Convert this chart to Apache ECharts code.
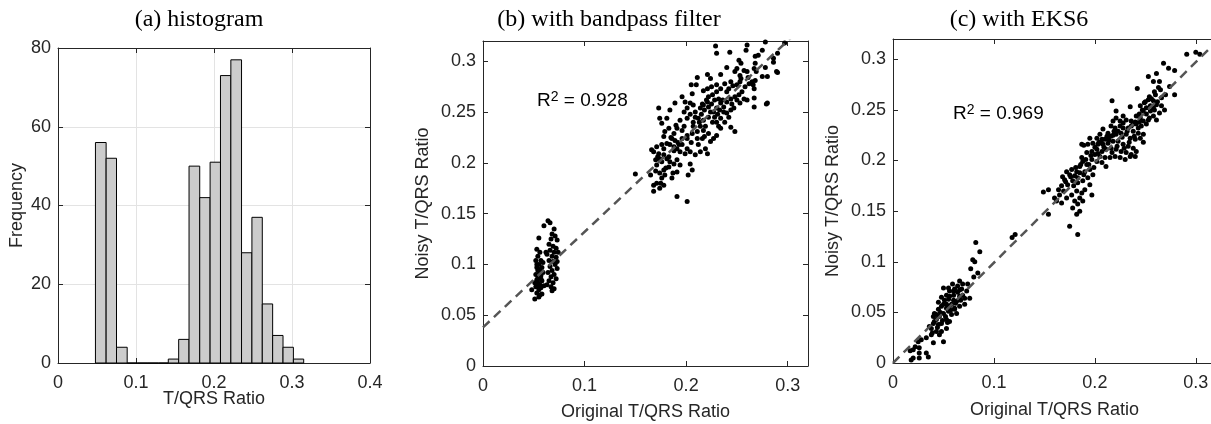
<!DOCTYPE html>
<html>
<head>
<meta charset="utf-8">
<script src="https://cdn.jsdelivr.net/npm/echarts@6/dist/echarts.min.js"></script>
<style>
html,body{margin:0;padding:0;background:#fff;}
#chart{width:1211px;height:424px;}
</style>
</head>
<body>
<div id="chart"></div>
<script>
// (a) histogram: bin edges and counts
var histEdges = [0.0480, 0.0617, 0.0750, 0.0887, 0.1020, 0.1153, 0.1286, 0.1414, 0.1547, 0.1680, 0.1817,
  0.1950, 0.2083, 0.2216, 0.2353, 0.2486, 0.2619, 0.2752, 0.2885, 0.3018, 0.3150];
var histCounts = [56, 52, 4, 0, 0, 0, 0, 1, 6, 50, 42, 51, 73, 77, 28, 37, 15, 7, 4, 1];

// (b) with bandpass filter: [original, noisy]
var bandpassLow = [
  [0.055,0.126],[0.053,0.115],[0.056,0.112],[0.054,0.108],[0.052,0.104],[0.057,0.104],[0.055,0.100],[0.053,0.097],
  [0.058,0.097],[0.054,0.094],[0.056,0.092],[0.052,0.090],[0.057,0.089],[0.055,0.087],[0.053,0.085],[0.058,0.084],
  [0.054,0.082],[0.056,0.080],[0.052,0.078],[0.057,0.077],[0.055,0.075],[0.053,0.072],[0.056,0.070],[0.051,0.066],
  [0.055,0.068],[0.058,0.071],[0.054,0.088],[0.056,0.095],[0.059,0.092],[0.051,0.082],[0.060,0.079],[0.048,0.075],
  [0.057,0.086],[0.053,0.100],[0.055,0.079],[0.059,0.102],
  [0.064,0.143],[0.066,0.141],[0.070,0.135],[0.068,0.130],[0.071,0.128],[0.067,0.125],[0.073,0.124],[0.065,0.120],
  [0.069,0.118],[0.072,0.116],[0.066,0.114],[0.070,0.112],[0.063,0.110],[0.068,0.108],[0.072,0.107],[0.065,0.104],
  [0.069,0.103],[0.071,0.100],[0.066,0.098],[0.073,0.096],[0.068,0.094],[0.064,0.092],[0.070,0.090],[0.067,0.088],
  [0.072,0.086],[0.065,0.084],[0.069,0.082],[0.063,0.080],[0.067,0.078],[0.070,0.076],[0.068,0.074],[0.060,0.138],
  [0.062,0.112],[0.074,0.112],[0.073,0.103]
];
var bandpassHigh = [
  [0.229,0.315],[0.230,0.308],[0.243,0.309],[0.260,0.316],[0.259,0.311],[0.278,0.319],[0.275,0.311],[0.271,0.306],
  [0.268,0.305],[0.290,0.308],[0.297,0.318],[0.252,0.301],[0.254,0.298],[0.268,0.298],[0.267,0.293],[0.250,0.293],
  [0.240,0.294],[0.248,0.290],[0.257,0.291],[0.260,0.290],[0.253,0.286],[0.261,0.284],[0.269,0.290],[0.278,0.294],
  [0.280,0.285],[0.275,0.285],[0.289,0.290],[0.265,0.280],[0.266,0.277],[0.267,0.273],[0.253,0.280],[0.250,0.277],
  [0.244,0.280],[0.242,0.273],[0.234,0.287],[0.224,0.283],[0.221,0.287],[0.211,0.284],[0.210,0.277],[0.205,0.277],
  [0.206,0.268],[0.217,0.271],[0.221,0.273],[0.225,0.275],[0.230,0.277],[0.234,0.273],[0.230,0.270],[0.226,0.267],
  [0.222,0.265],[0.232,0.263],[0.221,0.260],[0.217,0.257],[0.214,0.254],[0.209,0.250],[0.204,0.248],[0.201,0.244],
  [0.207,0.240],[0.212,0.244],[0.217,0.242],[0.222,0.245],[0.227,0.250],[0.230,0.254],[0.234,0.259],[0.237,0.255],
  [0.240,0.260],[0.244,0.263],[0.248,0.265],[0.252,0.267],[0.257,0.263],[0.260,0.262],[0.253,0.259],[0.247,0.254],
  [0.244,0.252],[0.240,0.249],[0.237,0.250],[0.234,0.244],[0.230,0.240],[0.234,0.234],[0.230,0.227],[0.227,0.224],
  [0.222,0.229],[0.217,0.232],[0.214,0.236],[0.211,0.231],[0.206,0.229],[0.201,0.227],[0.196,0.232],[0.191,0.234],
  [0.188,0.229],[0.183,0.234],[0.179,0.231],[0.178,0.226],[0.174,0.244],[0.173,0.254],[0.176,0.239],[0.181,0.244],
  [0.184,0.252],[0.189,0.259],[0.196,0.265],[0.199,0.260],[0.201,0.254],[0.204,0.259],[0.207,0.257],[0.198,0.250],
  [0.194,0.242],[0.190,0.237],[0.186,0.224],[0.189,0.222],[0.193,0.218],[0.196,0.218],[0.201,0.214],[0.204,0.211],
  [0.209,0.208],[0.214,0.211],[0.219,0.214],[0.221,0.209],[0.216,0.224],[0.211,0.224],[0.224,0.221],[0.201,0.224],
  [0.199,0.209],[0.194,0.211],[0.191,0.214],[0.188,0.216],[0.184,0.218],[0.181,0.219],[0.176,0.218],[0.171,0.216],
  [0.168,0.211],[0.173,0.209],[0.178,0.208],[0.181,0.204],[0.184,0.201],[0.188,0.199],[0.183,0.196],[0.178,0.193],
  [0.174,0.190],[0.179,0.188],[0.176,0.201],[0.171,0.198],[0.174,0.204],[0.170,0.203],[0.166,0.213],[0.191,0.203],
  [0.194,0.198],[0.191,0.191],[0.186,0.185],[0.204,0.199],[0.206,0.193],[0.202,0.188],[0.168,0.178],[0.171,0.180],
  [0.174,0.175],[0.168,0.172],[0.178,0.178],[0.150,0.189],[0.165,0.188],[0.191,0.167],[0.201,0.162],[0.248,0.231],
  [0.244,0.235],[0.267,0.264],[0.267,0.255],[0.280,0.259],[0.268,0.281],[0.286,0.299],[0.286,0.303],[0.279,0.258],
  [0.290,0.289],
  [0.215,0.248],[0.218,0.252],[0.222,0.255],[0.225,0.258],[0.228,0.245],[0.226,0.240],[0.219,0.236],[0.213,0.240],
  [0.224,0.250],[0.231,0.248],[0.233,0.252],[0.236,0.262],[0.238,0.240],[0.242,0.245],[0.220,0.262],[0.216,0.258],
  [0.228,0.262],[0.232,0.236],[0.207,0.236],[0.209,0.245],[0.245,0.258],[0.250,0.262],[0.255,0.270],[0.258,0.275],
  [0.262,0.278],[0.254,0.283],[0.246,0.276],[0.240,0.270],[0.238,0.278],[0.196,0.224],[0.188,0.212],[0.183,0.206],
  [0.178,0.214],[0.172,0.206],[0.185,0.225],[0.192,0.220],[0.198,0.236],[0.205,0.220],[0.212,0.218],[0.218,0.226],
  [0.180,0.195],[0.176,0.185],[0.170,0.192],[0.175,0.180],[0.187,0.190]
];
var bandpassFit = [[0, 0.038], [0.32, 0.339]];

// (c) with EKS6: [original, noisy]
var eks6Low = [
  [0.082,0.119],[0.086,0.110],[0.079,0.102],[0.081,0.100],[0.077,0.093],[0.084,0.089],[0.080,0.085],[0.074,0.078],
  [0.069,0.078],[0.066,0.081],[0.064,0.076],[0.061,0.073],[0.060,0.071],[0.056,0.071],[0.053,0.067],[0.050,0.074],
  [0.051,0.062],[0.056,0.066],[0.060,0.062],[0.063,0.061],[0.066,0.066],[0.069,0.067],[0.073,0.071],[0.076,0.064],
  [0.071,0.058],[0.066,0.056],[0.061,0.054],[0.056,0.056],[0.053,0.058],[0.048,0.056],[0.045,0.053],[0.041,0.049],
  [0.040,0.046],[0.043,0.043],[0.046,0.046],[0.050,0.049],[0.055,0.051],[0.058,0.048],[0.053,0.043],[0.048,0.039],
  [0.045,0.038],[0.040,0.039],[0.038,0.034],[0.043,0.031],[0.048,0.031],[0.053,0.034],[0.056,0.041],[0.038,0.028],
  [0.033,0.025],[0.028,0.023],[0.025,0.021],[0.022,0.016],[0.020,0.013],[0.017,0.012],[0.026,0.015],[0.026,0.010],
  [0.033,0.010],[0.035,0.006],[0.020,0.005],[0.018,0.003],[0.026,0.005],[0.050,0.021],[0.121,0.127],[0.118,0.124],
  [0.040,0.020],[0.046,0.028],[0.036,0.036],[0.063,0.049],[0.058,0.058],
  [0.045,0.060],[0.050,0.058],[0.055,0.063],[0.060,0.067],[0.064,0.070],[0.068,0.073],[0.062,0.059],[0.057,0.052],
  [0.052,0.046],[0.047,0.050],[0.043,0.048],[0.049,0.042],[0.044,0.035],[0.041,0.041],[0.054,0.040],[0.067,0.062],
  [0.071,0.064],[0.059,0.078],[0.055,0.074],[0.048,0.065],[0.066,0.072],[0.053,0.054],[0.061,0.053],[0.039,0.030]
];
var eks6High = [
  [0.291,0.305],[0.300,0.307],[0.304,0.305],[0.268,0.296],[0.273,0.291],[0.279,0.289],[0.253,0.283],[0.261,0.286],
  [0.264,0.278],[0.258,0.278],[0.274,0.273],[0.279,0.265],[0.242,0.271],[0.263,0.272],[0.259,0.268],[0.254,0.263],
  [0.253,0.260],[0.249,0.257],[0.258,0.259],[0.261,0.255],[0.266,0.254],[0.269,0.250],[0.264,0.247],[0.259,0.250],
  [0.255,0.254],[0.251,0.252],[0.248,0.249],[0.245,0.254],[0.235,0.253],[0.217,0.259],[0.221,0.249],[0.241,0.244],
  [0.245,0.242],[0.248,0.239],[0.254,0.242],[0.258,0.244],[0.261,0.240],[0.251,0.236],[0.246,0.234],[0.241,0.236],
  [0.236,0.239],[0.231,0.240],[0.228,0.237],[0.225,0.234],[0.220,0.232],[0.216,0.234],[0.233,0.232],[0.238,0.229],
  [0.243,0.227],[0.248,0.226],[0.245,0.222],[0.240,0.221],[0.235,0.222],[0.231,0.226],[0.226,0.227],[0.221,0.226],
  [0.216,0.224],[0.213,0.222],[0.210,0.221],[0.207,0.221],[0.202,0.222],[0.195,0.222],[0.187,0.216],[0.189,0.215],
  [0.193,0.216],[0.198,0.217],[0.203,0.216],[0.208,0.216],[0.213,0.217],[0.218,0.219],[0.223,0.219],[0.228,0.216],
  [0.233,0.214],[0.238,0.212],[0.241,0.209],[0.236,0.206],[0.231,0.208],[0.226,0.209],[0.221,0.211],[0.216,0.212],
  [0.211,0.211],[0.207,0.209],[0.202,0.211],[0.197,0.209],[0.192,0.208],[0.200,0.206],[0.205,0.204],[0.210,0.203],
  [0.215,0.203],[0.220,0.204],[0.225,0.203],[0.230,0.201],[0.235,0.204],[0.240,0.204],[0.248,0.218],[0.211,0.194],
  [0.207,0.198],[0.202,0.199],[0.197,0.201],[0.192,0.196],[0.188,0.199],[0.185,0.194],[0.187,0.203],[0.182,0.189],
  [0.177,0.191],[0.172,0.189],[0.175,0.186],[0.180,0.185],[0.185,0.188],[0.190,0.189],[0.195,0.191],[0.198,0.186],
  [0.193,0.183],[0.188,0.180],[0.183,0.178],[0.178,0.180],[0.173,0.176],[0.170,0.181],[0.167,0.175],[0.164,0.171],
  [0.169,0.170],[0.165,0.166],[0.160,0.163],[0.162,0.160],[0.167,0.158],[0.172,0.163],[0.177,0.166],[0.182,0.170],
  [0.187,0.168],[0.190,0.171],[0.195,0.176],[0.197,0.166],[0.185,0.163],[0.188,0.160],[0.180,0.160],[0.183,0.157],
  [0.178,0.153],[0.185,0.150],[0.182,0.147],[0.149,0.169],[0.154,0.171],[0.154,0.147],[0.175,0.135],[0.183,0.127],
  [0.225,0.239],[0.228,0.244],[0.221,0.242],[0.218,0.239],[0.213,0.227],[0.208,0.231],[0.205,0.226],
  [0.200,0.213],[0.204,0.218],[0.209,0.213],[0.214,0.220],[0.218,0.225],[0.223,0.229],[0.227,0.223],[0.232,0.229],
  [0.236,0.234],[0.240,0.238],[0.244,0.246],[0.247,0.250],[0.251,0.246],[0.255,0.249],[0.258,0.252],[0.262,0.258],
  [0.256,0.261],[0.250,0.258],[0.244,0.238],[0.238,0.236],[0.228,0.232],[0.219,0.229],[0.212,0.224],[0.207,0.217],
  [0.196,0.205],[0.191,0.201],[0.186,0.196],[0.181,0.193],[0.176,0.184],[0.171,0.179],[0.168,0.184],[0.179,0.175],
  [0.183,0.183],[0.189,0.186],[0.194,0.196],[0.199,0.193],[0.203,0.207],[0.217,0.208],[0.222,0.214],[0.229,0.212],
  [0.234,0.218],[0.239,0.224],[0.243,0.232],[0.253,0.240],[0.266,0.262],[0.270,0.265],[0.265,0.270],[0.260,0.265]
];
var eks6Fit = [[0, 0], [0.32, 0.317]];

var AXIS_COLOR = '#262626';
var SANS = 'Liberation Sans';
var SERIF = 'Liberation Serif';

var chart = echarts.init(document.getElementById('chart'), null, {renderer: 'canvas'});

function mainAxis(grid, pos, max, step, name, gap, split, hideMax) {
  return {
    gridIndex: grid, type: 'value', position: pos, min: 0, max: max, interval: step,
    axisLine: {show: true, onZero: false, lineStyle: {color: AXIS_COLOR, width: 1}},
    axisTick: {show: true, inside: true, length: 5, lineStyle: {color: AXIS_COLOR}},
    axisLabel: {
      show: true, margin: pos === 'bottom' ? 11 : 7, color: AXIS_COLOR,
      fontFamily: SANS, fontSize: 18, showMaxLabel: !hideMax, showMinLabel: true, hideOverlap: false
    },
    splitLine: {show: split, lineStyle: {color: '#e3e3e3', width: 1}},
    name: name, nameLocation: 'middle', nameGap: gap, nameMoveOverlap: false,
    nameTextStyle: {color: AXIS_COLOR, fontFamily: SANS, fontSize: 18}
  };
}
function boxAxis(grid, pos, max, step) {
  return {
    gridIndex: grid, type: 'value', position: pos, min: 0, max: max, interval: step,
    axisLine: {show: true, onZero: false, lineStyle: {color: AXIS_COLOR, width: 1}},
    axisTick: {show: true, inside: true, length: 5, lineStyle: {color: AXIS_COLOR}},
    axisLabel: {show: false},
    splitLine: {show: false}
  };
}

var histData = histCounts.map(function (c, i) { return [histEdges[i], histEdges[i + 1], c]; });

function r2Text(x, y, val) {
  return {
    type: 'text', x: x, y: y, silent: true,
    style: {
      text: '{a|R}{b|2}{a| = ' + val + '}',
      fill: '#000',
      rich: {
        a: {fontFamily: SANS, fontSize: 19, lineHeight: 22, fill: '#000'},
        b: {fontFamily: SANS, fontSize: 14, lineHeight: 14, fill: '#000', verticalAlign: 'top'}
      },
      verticalAlign: 'middle', textVerticalAlign: 'middle'
    }
  };
}
function titleText(x, txt) {
  return {
    type: 'text', x: x, y: 20, silent: true,
    style: {
      text: txt, fill: '#000', fontFamily: SERIF, fontSize: 24,
      align: 'center', textAlign: 'center', verticalAlign: 'middle', textVerticalAlign: 'middle'
    }
  };
}

var option = {
  backgroundColor: '#ffffff',
  animation: false,
  grid: [
    {left: 58, top: 48, width: 312, height: 315, outerBoundsMode: 'none', containLabel: false},
    {left: 483, top: 41, width: 325, height: 325, outerBoundsMode: 'none', containLabel: false},
    {left: 893, top: 39, width: 323, height: 324, outerBoundsMode: 'none', containLabel: false}
  ],
  xAxis: [
    mainAxis(0, 'bottom', 0.4, 0.1, 'T/QRS Ratio', 27, true, false),
    boxAxis(0, 'top', 0.4, 0.1),
    mainAxis(1, 'bottom', 0.32, 0.1, 'Original T/QRS Ratio', 37, false, true),
    boxAxis(1, 'top', 0.32, 0.1),
    mainAxis(2, 'bottom', 0.32, 0.1, 'Original T/QRS Ratio', 38, false, true),
    boxAxis(2, 'top', 0.32, 0.1)
  ],
  yAxis: [
    mainAxis(0, 'left', 80, 20, 'Frequency', 32, true, false),
    boxAxis(0, 'right', 80, 20),
    mainAxis(1, 'left', 0.32, 0.05, 'Noisy T/QRS Ratio', 51, false, true),
    boxAxis(1, 'right', 0.32, 0.05),
    mainAxis(2, 'left', 0.32, 0.05, 'Noisy T/QRS Ratio', 51, false, true),
    boxAxis(2, 'right', 0.32, 0.05)
  ],
  graphic: [
    titleText(199, '(a) histogram'),
    titleText(609, '(b) with bandpass filter'),
    titleText(1019, '(c) with EKS6'),
    r2Text(537, 101, '0.928'),
    r2Text(953, 114, '0.969')
  ],
  series: [
    {
      type: 'custom', xAxisIndex: 0, yAxisIndex: 0, silent: true,
      data: histData,
      encode: {x: [0, 1], y: 2},
      renderItem: function (params, api) {
        var p0 = api.coord([api.value(0), api.value(2)]);
        var p1 = api.coord([api.value(1), 0]);
        return {
          type: 'rect',
          shape: {x: p0[0], y: p0[1], width: p1[0] - p0[0], height: p1[1] - p0[1]},
          style: {fill: '#cccccc', stroke: '#000000', lineWidth: 1}
        };
      }
    },
    {
      type: 'scatter', xAxisIndex: 2, yAxisIndex: 2, silent: true,
      data: bandpassLow.concat(bandpassHigh), symbol: 'circle', symbolSize: 5,
      itemStyle: {color: '#000000', borderWidth: 0, opacity: 1}
    },
    {
      type: 'line', xAxisIndex: 2, yAxisIndex: 2, silent: true, z: 5,
      data: bandpassFit, showSymbol: false, symbol: 'none', clip: true,
      lineStyle: {color: '#555555', width: 2.5, type: [9, 6]}
    },
    {
      type: 'scatter', xAxisIndex: 4, yAxisIndex: 4, silent: true,
      data: eks6Low.concat(eks6High), symbol: 'circle', symbolSize: 5,
      itemStyle: {color: '#000000', borderWidth: 0, opacity: 1}
    },
    {
      type: 'line', xAxisIndex: 4, yAxisIndex: 4, silent: true, z: 5,
      data: eks6Fit, showSymbol: false, symbol: 'none', clip: true,
      lineStyle: {color: '#555555', width: 2.5, type: [9, 6]}
    }
  ]
};
chart.setOption(option);
</script>
</body>
</html>
